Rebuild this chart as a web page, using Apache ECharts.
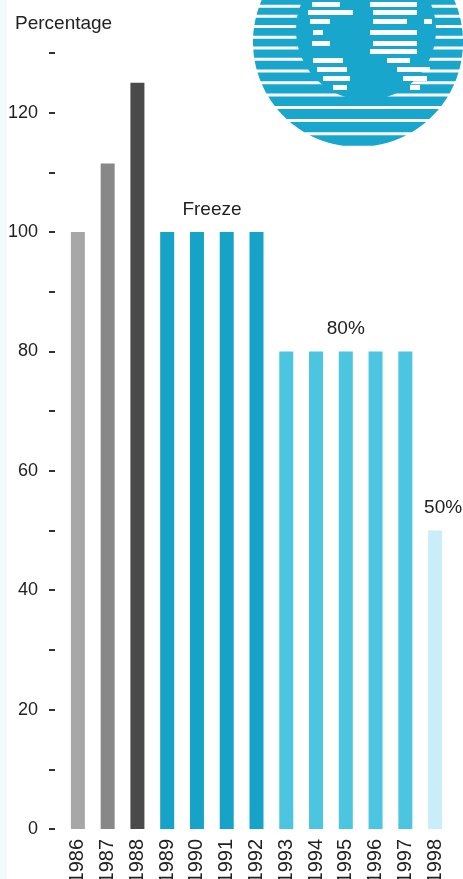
<!DOCTYPE html>
<html>
<head>
<meta charset="utf-8">
<script src="https://cdn.jsdelivr.net/npm/echarts@6/dist/echarts.min.js"></script>
<style>
  html, body { margin: 0; padding: 0; background: #ffffff; }
  #chart { width: 463px; height: 879px; }
</style>
</head>
<body>
<div id="chart"></div>
<script>
// Allowed production/consumption as a percentage of the 1986 baseline
const years = ['1986', '1987', '1988', '1989', '1990', '1991', '1992',
               '1993', '1994', '1995', '1996', '1997', '1998'];
const percentages = [100, 111.5, 125, 100, 100, 100, 100, 80, 80, 80, 80, 80, 50];
const barColors = ['#a7a7a7', '#888888', '#4a4a4a',
                   '#17a3c8', '#17a3c8', '#17a3c8', '#17a3c8',
                   '#4cc5e1', '#4cc5e1', '#4cc5e1', '#4cc5e1', '#4cc5e1',
                   '#c9edf9'];
// Phase annotations attached to individual bars
const notes = { '1990': 'Freeze', '1995': '80%', '1998': '50%' };
const noteOffsets = { '1990': [15, 0], '1995': [0, 0], '1998': [8, 0] };
const yTickLabels = [0, 20, 40, 60, 80, 100, 120];

const FONT = '"Liberation Sans", Arial, Helvetica, sans-serif';

// Striped globe emblem in the top-right corner
function emblem() {
  const cx = 358, cy = 42, R = 105;
  const gx = 366, gy = 30, gr = 70;
  const cyan = '#19a6cc';
  const els = [];
  function band(y0, y1, r, x0, yc) {
    // polygon covering the slice of circle (x0, yc, r) between y0 and y1
    const pts = [];
    const a = Math.max(y0, yc - r), b = Math.min(y1, yc + r);
    if (b <= a) return null;
    const steps = 6;
    for (let i = 0; i <= steps; i++) {
      const y = a + (b - a) * i / steps;
      const dx = Math.sqrt(Math.max(0, r * r - (y - yc) * (y - yc)));
      pts.push([x0 - dx, y]);
    }
    for (let i = steps; i >= 0; i--) {
      const y = a + (b - a) * i / steps;
      const dx = Math.sqrt(Math.max(0, r * r - (y - yc) * (y - yc)));
      pts.push([x0 + dx, y]);
    }
    return pts;
  }
  // outer striped disc
  let y = cy - R;
  while (y < cy + R) {
    const t = (y - (cy - R)) / (2 * R);
    const thick = 5 + t * 6;
    const pts = band(y, y + thick, R, cx, cy);
    if (pts) els.push({ type: 'polygon', shape: { points: pts }, style: { fill: cyan }, silent: true });
    y += thick + 3;
  }
  // globe body
  els.push({ type: 'circle', shape: { cx: gx, cy: gy, r: gr }, style: { fill: cyan }, silent: true });
  // ocean stripes across the globe: [y, x0, x1]
  const oceanStripes = [
    [-30, 320, 360], [-22, 305, 350], [-22, 375, 420], [-14, 300, 345], [-14, 372, 425],
    [-6, 300, 340], [-6, 372, 422], [2, 312, 340], [2, 370, 417],
    [10, 308, 353], [10, 373, 417], [19, 310, 330], [19, 373, 407], [19, 424, 432],
    [30, 313, 323], [30, 370, 417], [41, 312, 330], [41, 373, 417],
    [49, 370, 417], [58, 313, 343], [58, 387, 410], [67, 317, 347], [67, 397, 430],
    [76, 323, 350], [76, 403, 427], [85, 333, 347], [85, 410, 420]
  ];
  oceanStripes.forEach(function (s) {
    els.push({ type: 'rect', shape: { x: s[1], y: s[0], width: s[2] - s[1], height: 5 },
               style: { fill: '#ffffff' }, silent: true });
  });
  return els;
}

const chart = echarts.init(document.getElementById('chart'), null, { renderer: 'canvas' });

chart.setOption({
  animation: false,
  backgroundColor: '#ffffff',
  textStyle: { fontFamily: FONT },
  title: {
    text: 'Percentage',
    left: 10,
    top: 9,
    textStyle: { fontFamily: FONT, fontSize: 19, fontWeight: 'normal', color: '#222222' }
  },
  grid: { left: 63, right: 13, top: 53, bottom: 50, containLabel: false, outerBoundsMode: 'none' },
  xAxis: {
    type: 'category',
    data: years,
    axisLine: { show: false },
    axisTick: { show: false },
    axisLabel: {
      rotate: 90,
      margin: 10,
      fontSize: 20,
      fontFamily: FONT,
      color: '#222222'
    }
  },
  yAxis: {
    type: 'value',
    min: 0,
    max: 130,
    interval: 10,
    offset: 8,
    splitLine: { show: false },
    axisLine: { show: false },
    axisTick: { show: true, length: 6, lineStyle: { color: '#333333', width: 2 } },
    axisLabel: {
      margin: 17,
      fontSize: 18,
      fontFamily: FONT,
      color: '#222222',
      formatter: function (v) { return yTickLabels.indexOf(v) >= 0 ? String(v) : ''; }
    }
  },
  series: [{
    type: 'bar',
    barWidth: 14,
    data: percentages.map(function (v, i) {
      const yr = years[i];
      const item = { value: v, itemStyle: { color: barColors[i] } };
      if (notes[yr]) {
        item.label = {
          show: true,
          position: 'top',
          distance: 13,
          offset: noteOffsets[yr],
          formatter: notes[yr],
          fontSize: 19,
          fontFamily: FONT,
          color: '#222222'
        };
      }
      return item;
    })
  }],
  graphic: [
    { type: 'rect', shape: { x: 0, y: 0, width: 7, height: 879 },
      style: { fill: '#f1fbfd' }, silent: true, z: -1 }
  ].concat(emblem())
});
</script>
</body>
</html>
